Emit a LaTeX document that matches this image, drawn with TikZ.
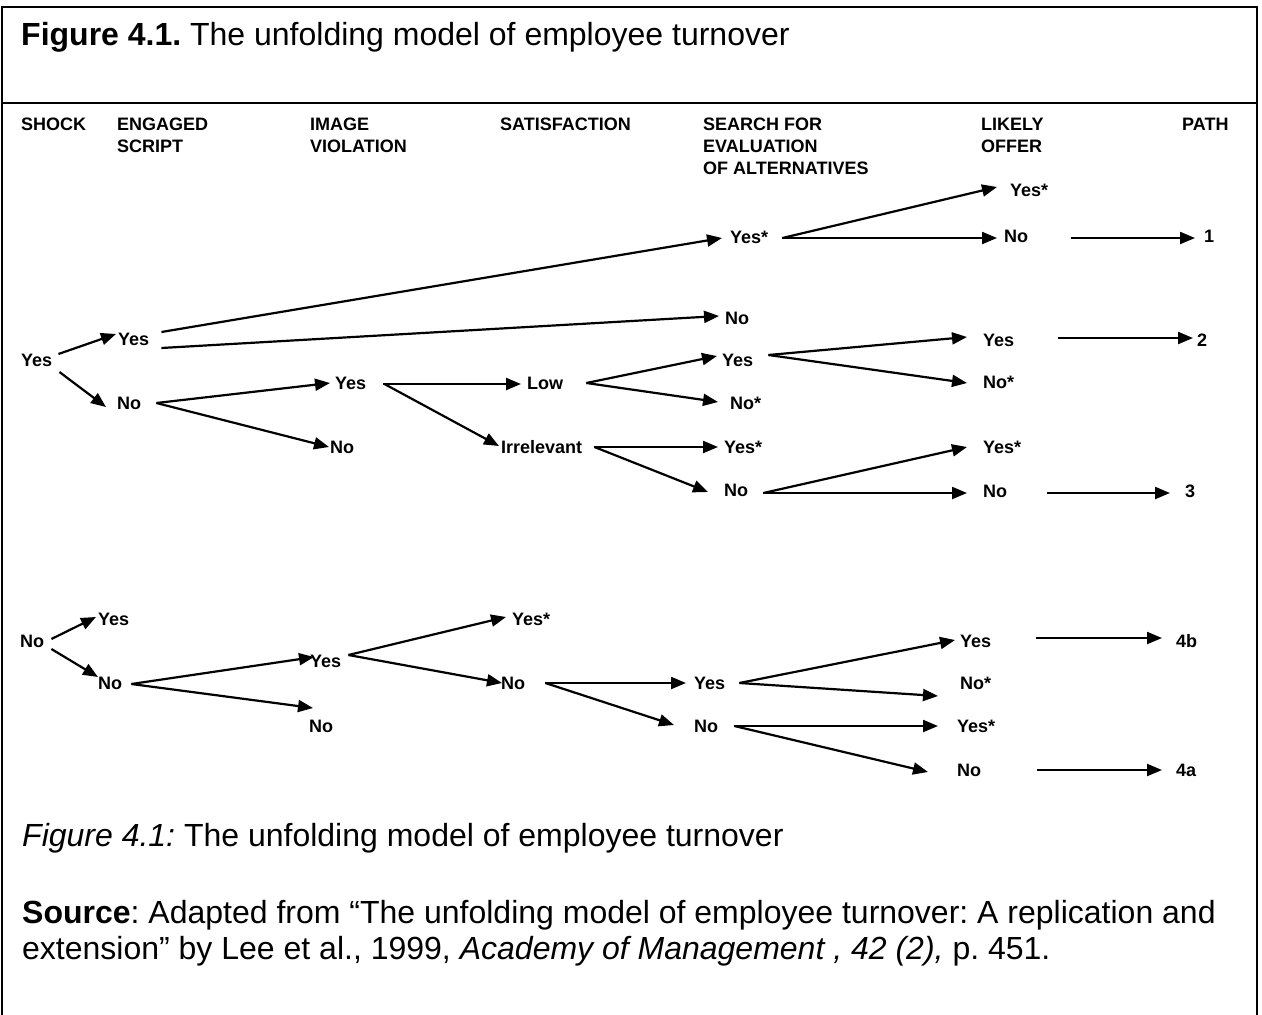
\documentclass[tikz,border=0pt]{standalone}
\usepackage{fontspec}
\setmainfont{Liberation Sans}
\usetikzlibrary{arrows.meta}
\frenchspacing
\begin{document}
\begin{tikzpicture}[x=1pt,y=-1pt,
  lab/.style={font=\fontsize{18}{22}\selectfont\bfseries, inner sep=0pt, anchor=west},
  hdr/.style={font=\fontsize{18}{22}\selectfont\bfseries, inner sep=0pt, anchor=north west, align=left},
  arr/.style={line width=2.2pt, -{Triangle[length=15pt,width=12pt]}},
  frame/.style={line width=2pt},
  capt/.style={font=\fontsize{32}{37}\selectfont, inner sep=0pt, anchor=base west}]

% page and frame
\fill[white] (0,0) rectangle (1262,1015);
\useasboundingbox (0,0) rectangle (1262,1015);
\draw[frame] (2,1015) -- (2,7) -- (1257,7) -- (1257,1015);
\draw[frame] (2,103) -- (1257,103);

% title
\node[capt] (title) at (21,45) {\textbf{Figure 4.1.} The unfolding model of employee turnover};

% column headers
\node[hdr] (hshock) at (21,118) {SHOCK};
\node[hdr] (hscript) at (117,118) {ENGAGED\\SCRIPT};
\node[hdr] (himage) at (310,118) {IMAGE\\VIOLATION};
\node[hdr] (hsat) at (500,118) {SATISFACTION};
\node[hdr] (hsearch) at (703,118) {SEARCH FOR\\EVALUATION\\OF ALTERNATIVES};
\node[hdr] (hoffer) at (981,118) {LIKELY\\OFFER};
\node[hdr] (hpath) at (1182,118) {PATH};

% upper tree: shock = yes
\node[lab] (r1) at (21,360) {Yes};
\node[lab] (e1) at (118,339) {Yes};
\node[lab] (e2) at (117,403) {No};
\node[lab] (i1) at (335,383) {Yes};
\node[lab] (i2) at (330,447) {No};
\node[lab] (t1) at (527,383) {Low};
\node[lab] (t2) at (501,447) {Irrelevant};
\node[lab] (s1) at (730,237) {Yes*};
\node[lab] (s2) at (725,318) {No};
\node[lab] (s3) at (722,360) {Yes};
\node[lab] (s4) at (730,403) {No*};
\node[lab] (s5) at (724,447) {Yes*};
\node[lab] (s6) at (724,490) {No};
\node[lab] (l1) at (1010,190) {Yes*};
\node[lab] (l2) at (1004,236) {No};
\node[lab] (l3) at (983,340) {Yes};
\node[lab] (l4) at (983,382) {No*};
\node[lab] (l5) at (983,447) {Yes*};
\node[lab] (l6) at (983,491) {No};
\node[lab] (p1) at (1204,236) {1};
\node[lab] (p2) at (1197,340) {2};
\node[lab] (p3) at (1185,491) {3};

\draw[arr] ([shift={(6,-6)}]r1.east) -- ([shift={(-2,-5)}]e1.west);
\draw[arr] ([shift={(7,12)}]r1.east) -- ([shift={(-11,4)}]e2.west);
\draw[arr] ([shift={(12,-7)}]e1.east) -- ([shift={(-8,1)}]s1.west);
\draw[arr] ([shift={(12,9)}]e1.east) -- ([shift={(-6,-2)}]s2.west);
\draw[arr] ([shift={(15,0)}]e2.east) -- ([shift={(-5,0)}]i1.west);
\draw[arr] ([shift={(15,0)}]e2.east) -- ([shift={(-1,0)}]i2.west);
\draw[arr] ([shift={(17,1)}]i1.east) -- ([shift={(-6,1)}]t1.west);
\draw[arr] ([shift={(18,1)}]i1.east) -- ([shift={(-2,-1)}]t2.west);
\draw[arr] ([shift={(23,0)}]t1.east) -- ([shift={(-5,-4)}]s3.west);
\draw[arr] ([shift={(23,0)}]t1.east) -- ([shift={(-12,-1)}]s4.west);
\draw[arr] ([shift={(12,0)}]t2.east) -- ([shift={(-6,0)}]s5.west);
\draw[arr] ([shift={(12,0)}]t2.east) -- ([shift={(-16,2)}]s6.west);
\draw[arr] ([shift={(14,1)}]s1.east) -- ([shift={(-13,-3)}]l1.west);
\draw[arr] ([shift={(14,1)}]s1.east) -- ([shift={(-7,2)}]l2.west);
\draw[arr] ([shift={(15,-5)}]s3.east) -- ([shift={(-16,-3)}]l3.west);
\draw[arr] ([shift={(15,-5)}]s3.east) -- ([shift={(-16,1)}]l4.west);
\draw[arr] ([shift={(15,3)}]s6.east) -- ([shift={(-16,0)}]l5.west);
\draw[arr] ([shift={(15,3)}]s6.east) -- ([shift={(-16,2)}]l6.west);
\draw[arr] ([shift={(43,2)}]l2.east) -- ([shift={(-9,2)}]p1.west);
\draw[arr] ([shift={(44,-2)}]l3.east) -- ([shift={(-4,-2)}]p2.west);
\draw[arr] ([shift={(40,2)}]l6.east) -- ([shift={(-15,2)}]p3.west);

% lower tree: shock = no
\node[lab] (r2) at (20,641) {No};
\node[lab] (f1) at (98,619) {Yes};
\node[lab] (f2) at (98,683) {No};
\node[lab] (j1) at (310,661) {Yes};
\node[lab] (j2) at (309,726) {No};
\node[lab] (u1) at (512,619) {Yes*};
\node[lab] (u2) at (501,683) {No};
\node[lab] (v1) at (694,683) {Yes};
\node[lab] (v2) at (694,726) {No};
\node[lab] (w1) at (960,641) {Yes};
\node[lab] (w2) at (960,683) {No*};
\node[lab] (w3) at (957,726) {Yes*};
\node[lab] (w4) at (957,770) {No};
\node[lab] (p4) at (1176,641) {4b};
\node[lab] (p5) at (1176,770) {4a};

\draw[arr] ([shift={(7,-2)}]r2.east) -- ([shift={(-2,-2)}]f1.west);
\draw[arr] ([shift={(7,8)}]r2.east) -- ([shift={(0,-6)}]f2.west);
\draw[arr] ([shift={(9,1)}]f2.east) -- ([shift={(4,-4)}]j1.west);
\draw[arr] ([shift={(9,1)}]f2.east) -- ([shift={(4,-18)}]j2.west);
\draw[arr] ([shift={(7,-6)}]j1.east) -- ([shift={(-6,-2)}]u1.west);
\draw[arr] ([shift={(7,-6)}]j1.east) -- ([shift={(1,0)}]u2.west);
\draw[arr] ([shift={(20,0)}]u2.east) -- ([shift={(-8,0)}]v1.west);
\draw[arr] ([shift={(20,0)}]u2.east) -- ([shift={(-20,-1)}]v2.west);
\draw[arr] ([shift={(14,0)}]v1.east) -- ([shift={(-5,-1)}]w1.west);
\draw[arr] ([shift={(14,0)}]v1.east) -- ([shift={(-22,13)}]w2.west);
\draw[arr] ([shift={(16,0)}]v2.east) -- ([shift={(-19,0)}]w3.west);
\draw[arr] ([shift={(16,0)}]v2.east) -- ([shift={(-29,2)}]w4.west);
\draw[arr] ([shift={(45,-3)}]w1.east) -- ([shift={(-14,-3)}]p4.west);
\draw[arr] ([shift={(56,0)}]w4.east) -- ([shift={(-14,0)}]p5.west);

% caption and source
\node[capt] (cap) at (22,846) {\textit{Figure 4.1:} The unfolding model of employee turnover};
\node[capt] (src1) at (22,923) {\textbf{Source}: Adapted from “The unfolding model of employee turnover: A replication and};
\node[capt] (src2) at (22,959) {extension” by Lee et al., 1999, \textit{Academy of Management , 42 (2),} p. 451.};
\end{tikzpicture}
\end{document}
